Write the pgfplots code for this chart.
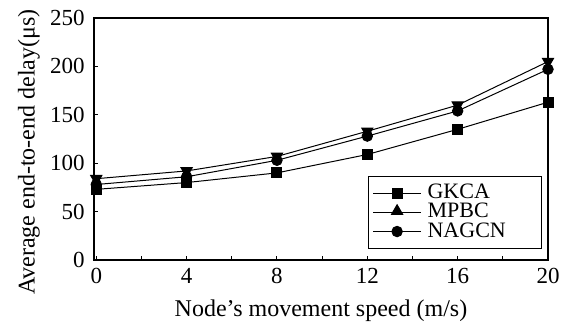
\documentclass[border=0pt]{standalone}
\usepackage{fontspec}
\setmainfont{Liberation Serif}
\usepackage{pgfplots}
\pgfplotsset{compat=1.18}
\begin{document}
\fontsize{12}{14}\selectfont
\begin{tikzpicture}
\begin{axis}[
  width=227pt, height=121pt, scale only axis,
  xmin=-0.1, xmax=20, ymin=0, ymax=250,
  xtick={0,4,8,12,16,20}, minor xtick={2,6,10,14,18},
  ytick={0,50,100,150,200,250},
  tick pos=left, tick align=inside,
  major tick length=2.2pt, minor tick length=2.2pt,
  axis line style={line width=0.75pt},
  every tick/.style={black, line width=0.5pt},
  /pgf/number format/assume math mode=true,
  ticklabel style={font=\fontsize{11.5}{14}\selectfont},
  yticklabel style={xshift=-0.5pt},
  xlabel={Node’s movement speed (m/s)},
  ylabel={Average end-to-end delay(μs)},
  label style={font=\fontsize{12}{14}\selectfont},
  xlabel style={yshift=0pt},
  ylabel style={at={(ticklabel cs:0.446)}, yshift=-3pt},
  clip=false,
  legend style={at={(rel axis cs:0.987,0.045)}, anchor=south east,
    draw=black, line width=0.5pt, font=\fontsize{11}{11}\selectfont,
    row sep=-3.5pt, inner xsep=2pt, inner ysep=2pt,
    nodes={inner xsep=3pt}},
  legend cell align=left,
  legend image code/.code={
    \draw[mark repeat=2,mark phase=2,#1] plot coordinates {(0pt,0pt) (12pt,0pt) (24pt,0pt)};},
]
\addplot[black, line width=0.5pt, mark=square*, mark size=2.5pt] coordinates {
 (0,73) (4,80) (8,90) (12,109) (16,135) (20,163)};
\addlegendentry{\makebox[52pt][l]{GKCA}}
\addplot[black, line width=0.5pt, mark=triangle*, mark size=3.2pt,
  mark options={rotate=180},
  legend image code/.code={\draw[black,line width=0.5pt] (0pt,0pt) -- (24pt,0pt);
    \fill[black] (12pt,0.6pt) +(90:3.2pt) -- +(210:3.2pt) -- +(330:3.2pt) -- cycle;}]
 coordinates {
 (0,84) (4,92) (8,107) (12,133) (16,160) (20,205)};
\addlegendentry{\makebox[52pt][l]{MPBC}}
\addplot[black, line width=0.5pt, mark=*, mark size=2.6pt] coordinates {
 (0,78) (4,86) (8,103) (12,128) (16,154) (20,197)};
\addlegendentry{\makebox[52pt][l]{NAGCN}}
\end{axis}
\path (current axis.south west) ++(-47pt,-33.5pt) coordinate (bbA);
\path (current axis.north east) ++(11.5pt,9pt) coordinate (bbB);
\pgfresetboundingbox
\path[use as bounding box] (bbA) rectangle (bbB);
\end{tikzpicture}
\end{document}
